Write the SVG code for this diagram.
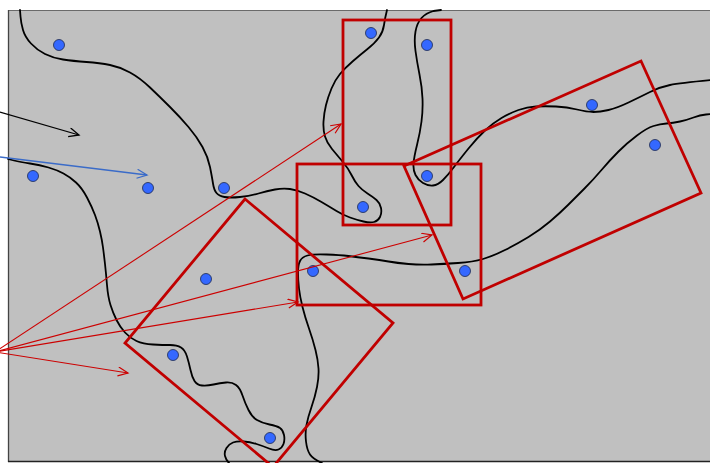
<svg xmlns="http://www.w3.org/2000/svg" width="710" height="463" viewBox="0 0 710 463">
<style>
.curve{fill:none;stroke:#000;stroke-width:1.8;stroke-linecap:round;stroke-linejoin:round}
.region{fill:none;stroke:#c00000;stroke-width:2.8;stroke-linejoin:miter}
.dot{fill:#3468ff;stroke:#1c2850;stroke-width:0.8}
.red{stroke:#cc0000;stroke-width:1.1;fill:none}
</style>
<defs>
<marker id="ahK" markerUnits="userSpaceOnUse" markerWidth="14" markerHeight="12" refX="11" refY="5" orient="auto"><path d="M1,0.5 L11,5 L1,9.5" fill="none" stroke="#000" stroke-width="1.3"/></marker>
<marker id="ahB" markerUnits="userSpaceOnUse" markerWidth="14" markerHeight="12" refX="11" refY="5" orient="auto"><path d="M1,0.5 L11,5 L1,9.5" fill="none" stroke="#3a6bc8" stroke-width="1.3"/></marker>
<marker id="ahR" markerUnits="userSpaceOnUse" markerWidth="14" markerHeight="12" refX="11" refY="5" orient="auto"><path d="M1,0.5 L11,5 L1,9.5" fill="none" stroke="#cc0000" stroke-width="1.2"/></marker>
</defs>
<rect x="8" y="10" width="702" height="452" fill="#c0c0c0"/>
<line x1="8" y1="10.5" x2="710" y2="10.5" stroke="#6a6a6a" stroke-width="1.2"/>
<line x1="8.5" y1="10" x2="8.5" y2="462" stroke="#444" stroke-width="1.3"/>
<line x1="8" y1="461.5" x2="710" y2="461.5" stroke="#222" stroke-width="1.5"/>
<g id="curves">
<path class="curve" d="M20,10 L20.5,16.5 Q21,23 23,30 Q25,37 31,43.5 Q37,50 45,54 Q53,58 63,59.5 Q73,61 86.5,62 Q100,63 110,65 Q120,67 130,72.5 Q140,78 150,87.5 Q160,97 170,107 Q180,117 188.5,127 Q197,137 202.5,147 Q208,157 210,167 Q212,177 213,183.5 Q214,190 216.5,193 Q219,196 224.5,197 Q230,198 240,197 Q250,196 258.5,193.5 Q267,191 275,189.5 Q283,188 290,189 Q297,190 305,193.5 Q313,197 321.5,202 Q330,207 336.5,211 Q343,215 350,217.5 Q357,220 363.5,221.5 Q370,223 374,222 Q378,221 380,217 Q382,213 381,208 Q380,203 376.5,200 Q373,197 367.5,193.5 Q362,190 358.5,186 Q355,182 351.5,175 Q348,168 342.5,161.5 Q337,155 332,149 Q327,143 325,136.5 Q323,130 323.5,121.5 Q324,113 326,105 Q328,97 331.5,88.5 Q335,80 340,74 Q345,68 352.5,61.5 Q360,55 367.5,49 Q375,43 379,37.5 Q383,32 384,25 Q385,18 387,10"/>
<path class="curve" d="M441,10 L433.5,11 Q426,13 421.5,18 Q417,23 415.5,31.5 Q414,40 415.5,51 Q417,62 419.5,74.5 Q422,87 422.5,98.5 Q423,110 421.5,121.5 Q420,133 417,145 Q414,157 413.5,163.5 Q413,170 415.5,175 Q418,180 423,183 Q428,186 433,185.5 Q438,185 443,180 Q448,175 454,167 Q460,159 468.5,148.5 Q477,138 485,130.5 Q493,123 501.5,118 Q510,113 518.5,110 Q527,107 536,106.5 Q545,106 556,106.5 Q567,107 577,109.5 Q587,112 593.5,112 Q600,112 608.5,110 Q617,108 628.5,102.5 Q640,97 650,92 Q660,87 670,85 Q680,83 712,80"/>
<path class="curve" d="M712,114 L706,114.5 Q700,115 693.5,117.5 Q687,120 680,121.5 Q673,123 666.5,123.5 Q660,124 653.5,126 Q647,128 637,135.5 Q627,143 618.5,151.5 Q610,160 601.5,170 Q593,180 584.5,188.5 Q576,197 568,205 Q560,213 550,221.5 Q540,230 528.5,237 Q517,244 505,250 Q493,256 483,259 Q473,262 458,263 Q443,264 431.5,264.5 Q420,265 408.5,264 Q397,263 388.5,261.5 Q380,260 368.5,258.5 Q357,257 348.5,256 Q340,255 326.5,254.5 Q313,254 307.5,255.5 Q302,257 300,261 Q298,265 298,272.5 Q298,280 299,288.5 Q300,297 302.5,307 Q305,317 309,328.5 Q313,340 315.5,350 Q318,360 318.5,368.5 Q319,377 317,387 Q315,397 311.5,407 Q308,417 306.5,425 Q305,433 306,441.5 Q307,450 310,454.5 Q313,459 322,463"/>
<path class="curve" d="M8,159 L14,160.5 Q20,162 30,163.5 Q40,165 48.5,167.5 Q57,170 63.5,173.5 Q70,177 76,182.5 Q82,188 87,197.5 Q92,207 95,215 Q98,223 100,231.5 Q102,240 103,247.5 Q104,255 105,264 Q106,273 107,285 Q108,297 110.5,305 Q113,313 116.5,320 Q120,327 125,332.5 Q130,338 136.5,341 Q143,344 153,344.5 Q163,345 170,345 Q177,345 181,347.5 Q185,350 187,356.5 Q189,363 190.5,370 Q192,377 194.5,381 Q197,385 202,385.5 Q207,386 213.5,384.5 Q220,383 226,382.5 Q232,382 236,385 Q240,388 242.5,395.5 Q245,403 248.5,410 Q252,417 257,420 Q262,423 269.5,424.5 Q277,426 280,428 Q283,430 284,435 Q285,440 283.5,444 Q282,448 278.5,449.5 Q275,451 269,448.5 Q263,446 256.5,444 Q250,442 243.5,441.5 Q237,441 233,442.5 Q229,444 226.5,448 Q224,452 225,456 Q226,460 229,463"/>
</g>
<g id="region1"><rect class="region" x="343" y="20" width="108" height="205"/></g>
<g id="region2"><rect class="region" x="297" y="164" width="184" height="141"/></g>
<g id="region3"><polygon class="region" points="404,166 641,61 701,193 463,299"/></g>
<g id="region4"><polygon class="region" points="245,199 393,323 273,467 125,343"/></g>
<g id="dots">
<g id="d1"><circle class="dot" cx="59" cy="45" r="5.5"/></g>
<g id="d2"><circle class="dot" cx="33" cy="176" r="5.5"/></g>
<g id="d3"><circle class="dot" cx="148" cy="188" r="5.5"/></g>
<g id="d4"><circle class="dot" cx="224" cy="188" r="5.5"/></g>
<g id="d5"><circle class="dot" cx="371" cy="33" r="5.5"/></g>
<g id="d6"><circle class="dot" cx="427" cy="45" r="5.5"/></g>
<g id="d7"><circle class="dot" cx="427" cy="176" r="5.5"/></g>
<g id="d8"><circle class="dot" cx="363" cy="207" r="5.5"/></g>
<g id="d9"><circle class="dot" cx="592" cy="105" r="5.5"/></g>
<g id="d10"><circle class="dot" cx="655" cy="145" r="5.5"/></g>
<g id="d11"><circle class="dot" cx="206" cy="279" r="5.5"/></g>
<g id="d12"><circle class="dot" cx="313" cy="271" r="5.5"/></g>
<g id="d13"><circle class="dot" cx="465" cy="271" r="5.5"/></g>
<g id="d14"><circle class="dot" cx="173" cy="355" r="5.5"/></g>
<g id="d15"><circle class="dot" cx="270" cy="438" r="5.5"/></g>
</g>
<g id="connectors">
<line x1="0" y1="112" x2="79" y2="135" stroke="#000" stroke-width="1.3" marker-end="url(#ahK)"/>
<line x1="0" y1="157" x2="147" y2="175" stroke="#3a6bc8" stroke-width="1.3" marker-end="url(#ahB)"/>
<line class="red" x1="-5" y1="352" x2="341" y2="124" marker-end="url(#ahR)"/>
<line class="red" x1="-5" y1="352" x2="432" y2="235" marker-end="url(#ahR)"/>
<line class="red" x1="-5" y1="352" x2="298" y2="302" marker-end="url(#ahR)"/>
<line class="red" x1="-5" y1="352" x2="128" y2="373" marker-end="url(#ahR)"/>
</g>
</svg>
